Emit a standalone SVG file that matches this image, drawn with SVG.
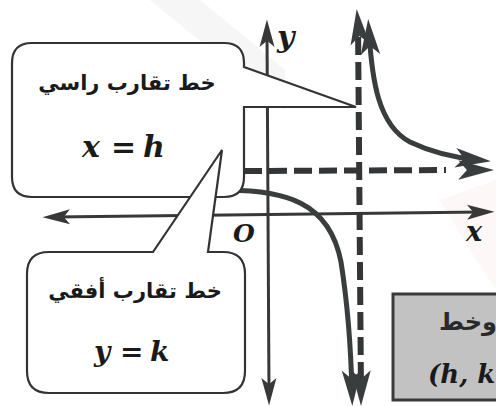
<svg xmlns="http://www.w3.org/2000/svg" width="496" height="406" viewBox="0 0 496 406">
<style>
.axis{stroke:#383838;stroke-width:3;fill:none}
.curve{stroke:#3a3d3e;stroke-width:5;fill:none}
.dash{stroke:#333536;stroke-width:6;fill:none;stroke-dasharray:18 7}
.box{fill:#fff;stroke:#333;stroke-width:2.2}
.ar{font-family:"DejaVu Sans",sans-serif;font-weight:bold;fill:#1a1a1a}
.m{font-family:"DejaVu Serif",serif;font-weight:bold;font-style:italic;fill:#1a1a1a}
</style>
<defs>
<marker id="ah" markerUnits="userSpaceOnUse" markerWidth="40" markerHeight="20" viewBox="-14 -8 26 16" refX="0" refY="0" orient="auto-start-reverse">
<path d="M10,0 L-12,-6 L-7,0 L-12,6 Z" fill="#383838"/>
</marker>
<marker id="bh" markerUnits="userSpaceOnUse" markerWidth="50" markerHeight="26" viewBox="-24 -12 38 24" refX="0" refY="0" orient="auto-start-reverse">
<path d="M12,0 L-21,-9 L-13,0 L-21,9 Z" fill="#3a3d3e"/>
</marker>
</defs>
<rect width="496" height="406" fill="#fff"/>
<g id="watermark" opacity="0.5">
<polygon points="150,0 200,0 285,70 285,110" fill="#eeeeee"/>
<polygon points="440,200 496,180 496,290 470,250" fill="#fcf0f0"/>
</g>
<g id="connectors">
<line class="axis" x1="55" y1="217" x2="482" y2="212" marker-start="url(#ah)" marker-end="url(#ah)"/>
<line class="axis" x1="267" y1="32" x2="269" y2="393" marker-start="url(#ah)" marker-end="url(#ah)"/>
<line class="dash" x1="358" y1="22" x2="361" y2="393" stroke-dashoffset="10"/>
<line x1="358" y1="22" x2="358.2" y2="24" stroke="none" marker-start="url(#bh)"/>
<line x1="361" y1="392" x2="361" y2="393" stroke="none" marker-end="url(#bh)"/>
<line class="dash" x1="244" y1="171" x2="446" y2="170"/>
<line x1="470" y1="170" x2="481" y2="170" stroke="none" marker-end="url(#bh)"/>
<path class="curve" d="M369 32 C372 80 378 125 410 142 C435 154 458 158 478 160" marker-start="url(#bh)" marker-end="url(#bh)"/>
<path class="curve" d="M205 191 C290 186 330 205 341 262 C347 300 351 350 352 393" marker-end="url(#bh)"/>
</g>
<g id="labels">
<text class="m" x="277" y="47" font-size="30">y</text>
<text class="m" x="466" y="241" font-size="27">x</text>
<text class="m" x="233" y="242" font-size="25">O</text>
</g>
<g id="vertical-note">
<path class="box" d="M32 43 H224 Q244 43 244 63 V67 L356 107 L244 107 V177 Q244 197 224 197 H32 Q12 197 12 177 V63 Q12 43 32 43 Z"/>
<text class="ar" x="127" y="90" font-size="21" text-anchor="middle">خط تقارب راسي</text>
<text class="m" font-size="30" y="157"><tspan x="82">x</tspan><tspan x="111">=</tspan><tspan x="143">h</tspan></text>
</g>
<g id="horizontal-note">
<path class="box" d="M49 252 H153 L222 150 L208 252 H223 Q245 252 245 274 V371 Q245 393 223 393 H49 Q27 393 27 371 V274 Q27 252 49 252 Z"/>
<text class="ar" x="135" y="298" font-size="21" text-anchor="middle">خط تقارب أفقي</text>
<text class="m" font-size="28" y="361"><tspan x="94">y</tspan><tspan x="120">=</tspan><tspan x="150">k</tspan></text>
</g>
<g id="intersection-note">
<rect x="393" y="294" width="110" height="106" fill="#c2c2c2" stroke="#3a3a3a" stroke-width="3"/>
<text x="439" y="330" font-family="DejaVu Sans,sans-serif" font-weight="bold" font-size="24" fill="#2a2a2a">وخط</text>
<text class="m" font-size="26" y="383" x="428" fill="#2a2a2a">(h, k</text>
</g>
</svg>
